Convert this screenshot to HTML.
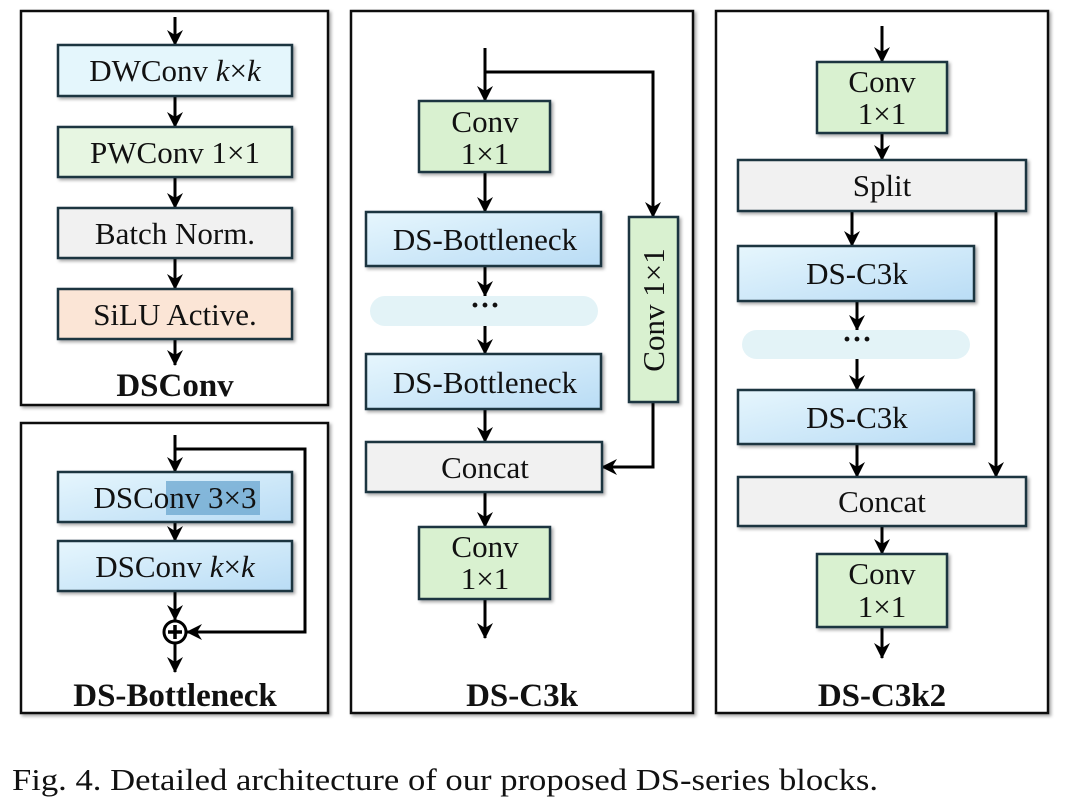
<!DOCTYPE html>
<html><head><meta charset="utf-8"><style>
html,body{margin:0;padding:0;background:#fff;}
svg{display:block;}
text{font-family:"Liberation Serif","Times New Roman",serif;fill:#111;}
</style></head><body>
<svg width="1080" height="802" viewBox="0 0 1080 802" xmlns="http://www.w3.org/2000/svg">
<defs>
<marker id="ah" viewBox="0 0 16 16" refX="15" refY="8" markerWidth="16" markerHeight="16" markerUnits="userSpaceOnUse" orient="auto">
<path d="M0,0 L16,8 L0,16 L5,8 Z" fill="#000"/>
</marker>
<linearGradient id="bg" x1="0" y1="0" x2="1" y2="1">
<stop offset="0" stop-color="#e6f6fd"/><stop offset="1" stop-color="#b9dcf5"/>
</linearGradient>
<filter id="sh" x="-10%" y="-10%" width="130%" height="130%">
<feDropShadow dx="2" dy="2" stdDeviation="1.5" flood-color="#000" flood-opacity="0.35"/>
</filter>
</defs>

<g fill="#fff" stroke="#111" stroke-width="2.5" filter="url(#sh)">
<rect x="21" y="11" width="307" height="394"/>
<rect x="21" y="423" width="307" height="290"/>
<rect x="351" y="11" width="342" height="702"/>
<rect x="716" y="11" width="332" height="702"/>
</g>

<g stroke="#000" stroke-width="3" fill="none" marker-end="url(#ah)">
<line x1="175" y1="17" x2="175" y2="45"/>
<line x1="175" y1="96" x2="175" y2="127"/>
<line x1="175" y1="177" x2="175" y2="208"/>
<line x1="175" y1="258" x2="175" y2="289"/>
<line x1="175" y1="339" x2="175" y2="365"/>
<line x1="175" y1="435" x2="175" y2="472"/>
<polyline points="175,449 305,449 305,632 187,632"/>
<line x1="175" y1="522" x2="175" y2="541"/>
<line x1="175" y1="591" x2="175" y2="620"/>
<line x1="175" y1="644" x2="175" y2="672"/>
<line x1="485" y1="48" x2="485" y2="101"/>
<polyline points="485,72 653,72 653,217"/>
<line x1="485" y1="172" x2="485" y2="212"/>
<line x1="485" y1="266" x2="485" y2="296"/>
<line x1="485" y1="326" x2="485" y2="354"/>
<line x1="485" y1="409" x2="485" y2="442"/>
<polyline points="653,402 653,467 602,467"/>
<line x1="485" y1="492" x2="485" y2="527"/>
<line x1="485" y1="599" x2="485" y2="638"/>
<line x1="882" y1="26" x2="882" y2="62"/>
<line x1="882" y1="133" x2="882" y2="160"/>
<line x1="852" y1="211" x2="852" y2="246"/>
<line x1="857" y1="301" x2="857" y2="330"/>
<line x1="857" y1="359" x2="857" y2="390"/>
<line x1="857" y1="444" x2="857" y2="477"/>
<line x1="996" y1="211" x2="996" y2="477"/>
<line x1="882" y1="526" x2="882" y2="554"/>
<line x1="882" y1="627" x2="882" y2="658"/>
</g>

<g stroke="#1d3540" stroke-width="2.5" filter="url(#sh)">
<rect x="58" y="45" width="234" height="51" fill="#e4f6fc"/>
<rect x="58" y="127" width="234" height="50" fill="#e7f6e2"/>
<rect x="58" y="208" width="234" height="50" fill="#f1f1f1"/>
<rect x="58" y="289" width="234" height="50" fill="#fbe5d6"/>
<rect x="58" y="472" width="234" height="50" fill="url(#bg)"/>
<rect x="58" y="541" width="234" height="50" fill="url(#bg)"/>
<rect x="419" y="101" width="131" height="71" fill="#d9f1d0"/>
<rect x="366" y="212" width="235" height="54" fill="url(#bg)"/>
<rect x="366" y="354" width="235" height="55" fill="url(#bg)"/>
<rect x="629" y="217" width="49" height="185" fill="#d9f1d0"/>
<rect x="366" y="442" width="236" height="50" fill="#f1f1f1"/>
<rect x="419" y="527" width="131" height="72" fill="#d9f1d0"/>
<rect x="817" y="62" width="130" height="71" fill="#d9f1d0"/>
<rect x="738" y="160" width="288" height="51" fill="#f1f1f1"/>
<rect x="738" y="246" width="236" height="55" fill="url(#bg)"/>
<rect x="738" y="390" width="236" height="54" fill="url(#bg)"/>
<rect x="738" y="477" width="288" height="49" fill="#f1f1f1"/>
<rect x="817" y="554" width="130" height="73" fill="#d9f1d0"/>
</g>

<rect x="370" y="296" width="228" height="30" rx="15" fill="#e3f3f7"/>
<rect x="742" y="330" width="228" height="29" rx="14.5" fill="#e3f3f7"/>
<text x="485" y="315" font-size="30" text-anchor="middle" font-weight="bold">···</text>
<text x="857" y="349" font-size="30" text-anchor="middle" font-weight="bold">···</text>

<rect x="166" y="481" width="94" height="34" fill="#6aa6cf" opacity="0.75"/>

<circle cx="175" cy="632" r="11" fill="#fff" stroke="#000" stroke-width="3"/>
<path d="M168,632 H182 M175,625 V639" stroke="#000" stroke-width="3.5"/>

<g font-size="31" text-anchor="middle">
<text x="175" y="81">DWConv <tspan font-style="italic">k</tspan>×<tspan font-style="italic">k</tspan></text>
<text x="175" y="163">PWConv 1×1</text>
<text x="175" y="244">Batch Norm.</text>
<text x="175" y="325">SiLU Active.</text>
<text x="175" y="508">DSConv 3×3</text>
<text x="175" y="577">DSConv <tspan font-style="italic">k</tspan>×<tspan font-style="italic">k</tspan></text>
<text x="485" y="132">Conv</text>
<text x="485" y="164">1×1</text>
<text x="485" y="250">DS-Bottleneck</text>
<text x="485" y="393">DS-Bottleneck</text>
<text x="485" y="478">Concat</text>
<text x="485" y="557">Conv</text>
<text x="485" y="589">1×1</text>
<text transform="translate(664,310) rotate(-90)">Conv 1×1</text>
<text x="882" y="92">Conv</text>
<text x="882" y="124">1×1</text>
<text x="882" y="196">Split</text>
<text x="857" y="284">DS-C3k</text>
<text x="857" y="428">DS-C3k</text>
<text x="882" y="512">Concat</text>
<text x="882" y="584">Conv</text>
<text x="882" y="617">1×1</text>
</g>

<g font-size="33" font-weight="bold" text-anchor="middle">
<text x="175" y="396">DSConv</text>
<text x="175" y="706">DS-Bottleneck</text>
<text x="522" y="706">DS-C3k</text>
<text x="882" y="706">DS-C3k2</text>
</g>

<text x="12" y="790" font-size="31" textLength="866" lengthAdjust="spacingAndGlyphs">Fig. 4.  Detailed architecture of our proposed DS-series blocks.</text>
</svg>
</body></html>
